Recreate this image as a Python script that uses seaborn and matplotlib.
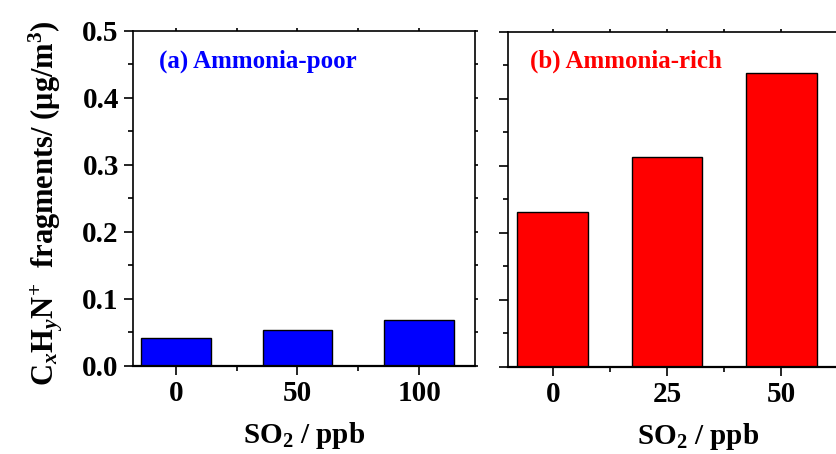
import matplotlib
matplotlib.use("Agg")
import matplotlib.pyplot as plt
import seaborn as sns
import pandas as pd
from matplotlib.ticker import MultipleLocator, FormatStrFormatter

# --- données ---
so2_poor = ["0", "50", "100"]
chn_poor = [0.041, 0.054, 0.068]
so2_rich = ["0", "25", "50"]
chn_rich = [0.231, 0.313, 0.438]

sns.set_style("ticks")
plt.rcParams["font.family"] = ["Liberation Serif", "DejaVu Serif"]
plt.rcParams["font.weight"] = "bold"
plt.rcParams["mathtext.fontset"] = "custom"
plt.rcParams["mathtext.rm"] = "Liberation Serif:bold"
plt.rcParams["mathtext.bf"] = "Liberation Serif:bold"
plt.rcParams["mathtext.it"] = "Liberation Serif:italic:bold"
plt.rcParams["mathtext.default"] = "rm"
for key in ["text.color", "axes.labelcolor", "xtick.color", "ytick.color", "axes.edgecolor"]:
    plt.rcParams[key] = "black"

fig = plt.figure(figsize=(8.37, 4.54), dpi=100)
ax1 = fig.add_axes([0.1593, 0.1945, 0.4082, 0.738])
ax2 = fig.add_axes([0.6073, 0.1927, 0.408, 0.7379])

df_poor = pd.DataFrame({"so2": so2_poor, "val": chn_poor})
df_rich = pd.DataFrame({"so2": so2_rich, "val": chn_rich})

sns.barplot(data=df_poor, x="so2", y="val", color="#0000FF", saturation=1,
            width=0.57, edgecolor="black", linewidth=1.0, ax=ax1)
sns.barplot(data=df_rich, x="so2", y="val", color="#FF0000", saturation=1,
            width=0.62, edgecolor="black", linewidth=1.0, ax=ax2)

ax1.set_xlim(-0.35, 2.46)
ax2.set_xlim(-0.39, 2.6)

for ax in (ax1, ax2):
    ax.set_ylim(0, 0.5)
    ax.yaxis.set_major_locator(MultipleLocator(0.1))
    ax.yaxis.set_minor_locator(MultipleLocator(0.05))
    ax.xaxis.set_minor_locator(MultipleLocator(0.5))
    for side in ax.spines.values():
        side.set_linewidth(1.2)
        side.set_visible(True)
    ax.spines["bottom"].set_linewidth(1.6)
    ax.tick_params(axis="both", which="major", direction="out", length=6.5,
                   width=1.2, labelsize=21, pad=4)
    ax.tick_params(axis="both", which="minor", direction="out", length=3.5, width=1.2)
    ax.tick_params(axis="x", which="both", top=True, labeltop=False)
    ax.tick_params(axis="y", which="both", right=True, labelright=False)
    ax.set_xlabel(r"SO$_{2}$ / ppb", fontsize=21, fontweight="bold")
    ax.set_ylabel("")
    # ticks haut/droite très courts
    for t in ax.xaxis.get_major_ticks() + ax.xaxis.get_minor_ticks():
        t.tick2line.set_markersize(2.5)
    for t in ax.yaxis.get_major_ticks() + ax.yaxis.get_minor_ticks():
        t.tick2line.set_markersize(2.0)

ax1.yaxis.set_major_formatter(FormatStrFormatter("%.1f"))
ax2.tick_params(axis="y", which="both", labelleft=False)

ax1.set_ylabel(r"C$_{\mathit{x}}$H$_{\mathit{y}}$N$^{+}$  fragments/ ($\mu$g/m$^{3}$)",
               fontsize=22, fontweight="bold")
ax1.yaxis.set_label_coords(-0.2, 0.485)

ax1.xaxis.set_label_coords(0.5, -0.163)
ax2.xaxis.set_label_coords(0.555, -0.163)

ax1.text(0.075, 0.91, "(a) Ammonia-poor", transform=ax1.transAxes, color="#0000FF",
         fontsize=18, fontweight="bold", va="center", ha="left")
ax2.text(0.0625, 0.91, "(b) Ammonia-rich", transform=ax2.transAxes, color="#FF0000",
         fontsize=18, fontweight="bold", va="center", ha="left")

fig.savefig("out.png", dpi=100)
